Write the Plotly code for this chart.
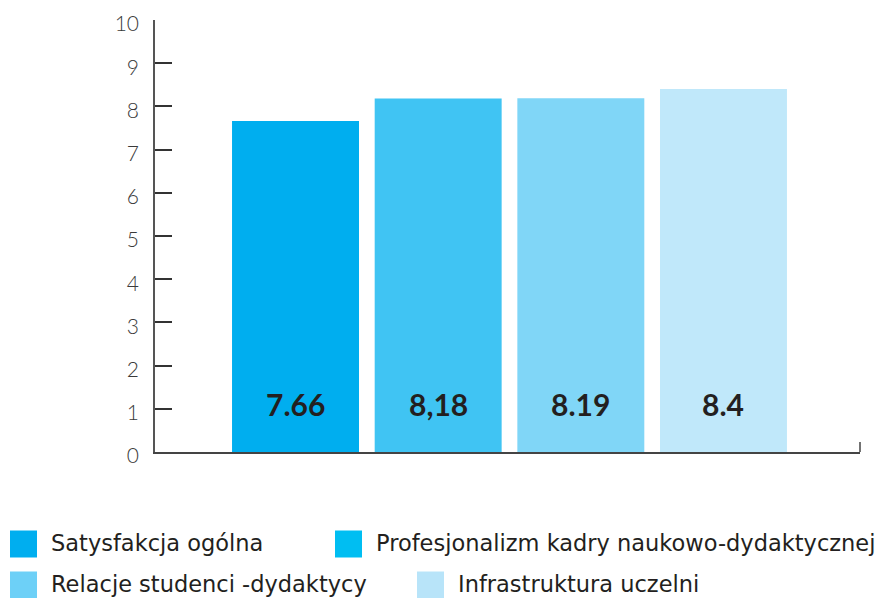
import plotly.graph_objects as go

categories = ["Satysfakcja ogólna", "Profesjonalizm kadry naukowo-dydaktycznej",
              "Relacje studenci -dydaktycy", "Infrastruktura uczelni"]
values = [7.66, 8.18, 8.19, 8.4]
value_labels = ["7.66", "8,18", "8.19", "8.4"]
bar_colors = ["#00AEEF", "#40C4F3", "#80D6F7", "#C0E8FA"]
legend_colors = ["#00AEEF", "#00BEF2", "#6DD0F7", "#B8E4F9"]
y_ticks = [0, 1, 2, 3, 4, 5, 6, 7, 8, 9, 10]

W, H = 895, 598
L, R, T, B = 155, 35, 20, 146
PW, PH = W - L - R, H - T - B


def px(x):
    return (x - L) / PW


def py(y):
    return (H - B - y) / PH


fig = go.Figure()
for i, (cat, v, c) in enumerate(zip(categories, values, bar_colors)):
    fig.add_trace(go.Bar(x=[i], y=[v], name=cat, marker=dict(color=c, line=dict(width=0)),
                         width=0.89, showlegend=False, hoverinfo="y"))

for i, lab in enumerate(value_labels):
    fig.add_annotation(x=i, y=1.1, xref="x", yref="y", text="<b>" + lab + "</b>",
                       showarrow=False, xanchor="center", yanchor="middle",
                       font=dict(family="Lato", size=30, color="#231F20"))

# manual legend
legend_pos = [(10, 544), (335, 544), (10, 585), (417, 585)]
for (lx, ly), cat, c in zip(legend_pos, categories, legend_colors):
    fig.add_shape(type="rect", xref="paper", yref="paper",
                  x0=px(lx), x1=px(lx + 27), y0=py(ly + 13.5), y1=py(ly - 13.5),
                  fillcolor=c, line=dict(width=0))
    fig.add_annotation(x=px(lx + 39), y=py(ly - 1.5), xref="paper", yref="paper", text=cat,
                       showarrow=False, xanchor="left", yanchor="middle",
                       font=dict(family="DejaVu Sans", size=22.5, color="#231F20"))

# right-end tick of x axis
fig.add_shape(type="line", xref="paper", yref="paper", x0=1, x1=1, y0=0, y1=py(H - B - 10),
              line=dict(color="#444444", width=1.5))

fig.update_layout(
    width=W, height=H,
    margin=dict(l=L, r=R, t=T, b=B, autoexpand=False),
    paper_bgcolor="white", plot_bgcolor="white",
    barmode="overlay",
    xaxis=dict(range=[-0.985, 3.957], showline=True, linecolor="#444444", linewidth=1.5,
               showticklabels=False, ticks="", showgrid=False, zeroline=False, automargin=False),
    yaxis=dict(range=[0, 10], tickvals=y_ticks, ticks="inside", ticklen=17, tickwidth=1.5,
               tickcolor="#333333", showline=True, linecolor="#555555", linewidth=1.5,
               showgrid=False, zeroline=False, ticklabelstandoff=10, ticklabelshift=4,
               automargin=False,
               tickfont=dict(family="Lato", size=21, color="#3a3a3a", weight=300)),
)

fig.write_html("out.html", config={"displayModeBar": False},
               post_script="document.body.style.margin='0';document.body.style.overflow='hidden';")
